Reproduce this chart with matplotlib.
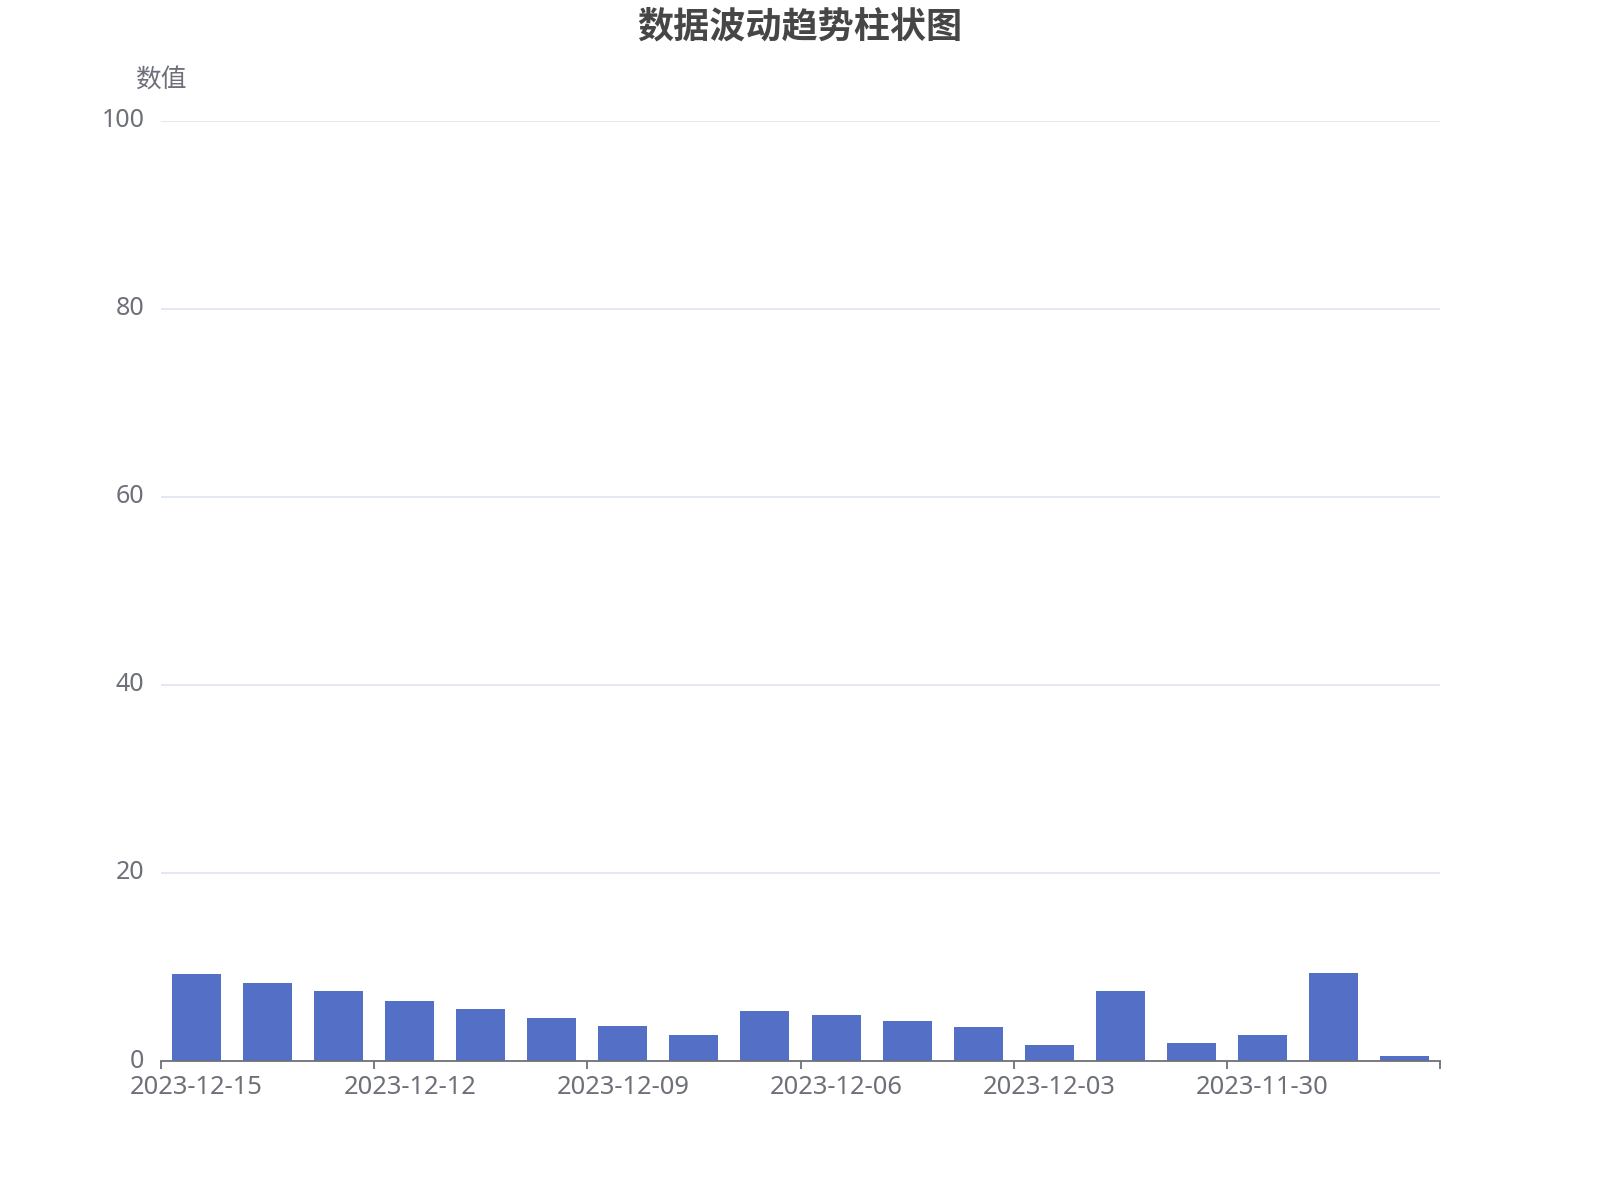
import matplotlib
matplotlib.use("Agg")
import matplotlib.pyplot as plt
import matplotlib.transforms as mtransforms
import numpy as np

plt.rcParams['font.family'] = ['Noto Sans CJK SC', 'DejaVu Sans']

title = "数据波动趋势柱状图"
y_name = "数值"
dates = ["2023-12-15", "2023-12-14", "2023-12-13", "2023-12-12", "2023-12-11",
         "2023-12-10", "2023-12-09", "2023-12-08", "2023-12-07", "2023-12-06",
         "2023-12-05", "2023-12-04", "2023-12-03", "2023-12-02", "2023-12-01",
         "2023-11-30", "2023-11-29", "2023-11-28"]
values = [9.2, 8.3, 7.4, 6.4, 5.5, 4.6, 3.7, 2.8, 5.3,
          4.9, 4.3, 3.65, 1.75, 7.4, 1.9, 2.8, 9.4, 0.5]
y_ticks = [0, 20, 40, 60, 80, 100]

bar_color = "#5470c6"
axis_color = "#6E7079"
grid_color = "#E0E6F1"
num_font = ['Noto Sans', 'Noto Sans CJK SC']

fig = plt.figure(figsize=(16, 12), dpi=100)
W, H = 1600, 1200
left, right, top, bottom = 161, 1440, 120.5, 1061
ax = fig.add_axes([left / W, 1 - bottom / H, (right - left) / W, (bottom - top) / H])

x = np.arange(len(dates))
ax.bar(x, values, width=0.69, color=bar_color, zorder=3)

ax.set_xlim(-0.5, len(dates) - 0.5)
ax.set_ylim(0, 100)
ax.set_yticks(y_ticks)
ax.set_yticklabels([str(v) for v in y_ticks], family=num_font)
ax.tick_params(axis='y', length=0, pad=12, labelsize=18, labelcolor=axis_color)
shift = mtransforms.ScaledTranslation(0, 3 / 100, fig.dpi_scale_trans)
for lbl in ax.get_yticklabels():
    lbl.set_transform(lbl.get_transform() + shift)
for v in y_ticks[1:]:
    ax.axhline(v, color=grid_color, linewidth=1.3, zorder=1)

# x ticks at category boundaries every 3, labels at category centers every 3
bounds = np.arange(-0.5, len(dates), 3)
ax.set_xticks(bounds)
ax.set_xticklabels([""] * len(bounds))
ax.tick_params(axis='x', which='major', length=5.5, width=1.3, color=axis_color)
label_idx = list(range(0, len(dates), 3))
ax.set_xticks(label_idx, minor=True)
ax.set_xticklabels([dates[i] for i in label_idx], minor=True, family=num_font)
ax.tick_params(axis='x', which='minor', length=0, pad=10, labelsize=18.4, labelcolor=axis_color)

for s in ['top', 'right', 'left']:
    ax.spines[s].set_visible(False)
ax.spines['bottom'].set_color(axis_color)
ax.spines['bottom'].set_linewidth(1.3)
ax.spines['bottom'].set_zorder(4)

fig.text(0.5, 1 - 27 / H, title, ha='center', va='center', fontsize=26,
         fontweight='bold', color="#464646")
fig.text(left / W, 1 - 81 / H, y_name, ha='center', va='center', fontsize=18.5,
         color=axis_color)

fig.savefig("out.png", dpi=100, facecolor="white")
